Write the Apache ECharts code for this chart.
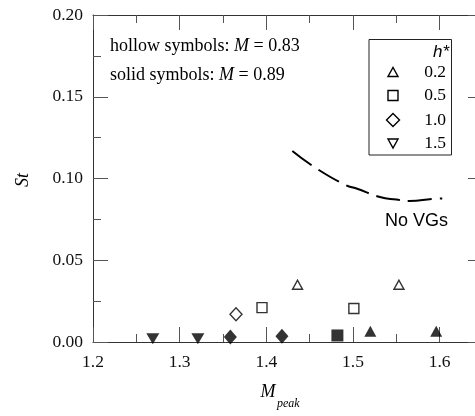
<!DOCTYPE html>
<html>
<head>
<meta charset="utf-8">
<script src="https://cdn.jsdelivr.net/npm/echarts@6/dist/echarts.min.js"></script>
<style>
  html, body { margin: 0; padding: 0; background: #fff; }
  #c { width: 475px; height: 416px; }
</style>
</head>
<body>
<div id="c"></div>
<script>
// Strouhal number St against peak Mach number, by vortex-generator height h*
const hStarLabels = ['0.2', '0.5', '1.0', '1.5'];

// hollow symbols: M = 0.83
const hollowH02 = [[1.436, 0.035], [1.553, 0.035]];
const hollowH05 = [[1.395, 0.021], [1.501, 0.0205]];
const hollowH10 = [[1.365, 0.017]];

// solid symbols: M = 0.89
const solidH02 = [[1.520, 0.0065], [1.596, 0.0065]];
const solidH05 = [[1.482, 0.004]];
const solidH10 = [[1.3585, 0.003], [1.418, 0.0035]];
const solidH15 = [[1.269, 0.002], [1.321, 0.002]];

// reference curve without vortex generators
const noVG = [
  [1.430, 0.1168], [1.458, 0.1061], [1.492, 0.0959], [1.504, 0.0939],
  [1.531, 0.0887], [1.550, 0.0871], [1.565, 0.0863], [1.592, 0.0875], [1.603, 0.0878]
];

const X_MIN = 1.2, X_MAX = 1.65, X_STEP = 0.1;
const Y_MIN = 0, Y_MAX = 0.2, Y_STEP = 0.05;

const SERIF = '"Liberation Serif", "Times New Roman", serif';
const SANS = '"Liberation Sans", Arial, sans-serif';
const AX = '#333';

function frameAxis(pos, isX, showLabel) {
  return {
    type: 'value',
    position: pos,
    min: isX ? X_MIN : Y_MIN,
    max: isX ? X_MAX : Y_MAX,
    interval: isX ? X_STEP : Y_STEP,
    axisLine: { show: true, onZero: false, lineStyle: { color: AX, width: 1 } },
    axisTick: { show: true, inside: true, length: 15, lineStyle: { color: '#555', width: 1 } },
    minorTick: { show: true, splitNumber: 2, length: 8, lineStyle: { color: '#555', width: 1 } },
    splitLine: { show: false },
    axisLabel: {
      show: showLabel,
      showMaxLabel: isX ? false : true,
      fontFamily: SERIF, fontSize: 17.5, color: '#111',
      margin: isX ? 11 : 10,
      formatter: v => isX ? v.toFixed(1) : v.toFixed(2)
    }
  };
}

const hollowStyle = { color: '#fff', borderColor: '#000', borderWidth: 1.4 };
const solidStyle = { color: '#000' };

function sc(data, symbol, size, style, rotate) {
  return {
    type: 'scatter', data, symbol, symbolSize: size,
    symbolRotate: rotate || 0, itemStyle: style, z: 5,
    emphasis: { disabled: true }
  };
}

// legend box contents
const legX = 393, legRight = 446;
const legRows = [72, 95.5, 120, 143.5];
function triPts(cx, cy, w, h, down) {
  return down
    ? [[cx - w / 2, cy - h / 2], [cx + w / 2, cy - h / 2], [cx, cy + h / 2]]
    : [[cx - w / 2, cy + h / 2], [cx + w / 2, cy + h / 2], [cx, cy - h / 2]];
}
const legStroke = { fill: '#fff', stroke: '#000', lineWidth: 1.4 };
const legendGraphics = [
  { type: 'rect', shape: { x: 369, y: 39.5, width: 82.5, height: 115.5 },
    style: { fill: '#fff', stroke: '#222', lineWidth: 1 }, z: 10 },
  { type: 'text', x: 449, y: 52, z: 11,
    style: { text: 'h*', font: 'italic 17px ' + SANS, fill: '#000', align: 'right', verticalAlign: 'middle' } },
  { type: 'polygon', shape: { points: triPts(legX, legRows[0], 10, 9, false) }, style: legStroke, z: 11 },
  { type: 'rect', shape: { x: legX - 5, y: legRows[1] - 5, width: 10, height: 10 }, style: legStroke, z: 11 },
  { type: 'polygon', shape: { points: [[legX, legRows[2] - 6.5], [legX + 6.5, legRows[2]], [legX, legRows[2] + 6.5], [legX - 6.5, legRows[2]]] }, style: legStroke, z: 11 },
  { type: 'polygon', shape: { points: triPts(legX, legRows[3], 10, 9, true) }, style: legStroke, z: 11 }
].concat(hStarLabels.map((t, i) => ({
  type: 'text', x: legRight, y: legRows[i], z: 11,
  style: { text: t, font: '17.5px ' + SERIF, fill: '#000', align: 'right', verticalAlign: 'middle' }
})));

const richNote = {
  n: { fontFamily: SERIF, fontSize: 18, fill: '#000' },
  i: { fontFamily: SERIF, fontSize: 18, fontStyle: 'italic', fill: '#000' }
};

const chart = echarts.init(document.getElementById('c'), null, { renderer: 'canvas' });
chart.setOption({
  animation: false,
  backgroundColor: '#fff',
  grid: { left: 93, width: 390, top: 15, height: 327, containLabel: false, outerBoundsMode: 'none' },
  xAxis: [frameAxis('bottom', true, true), frameAxis('top', true, false)],
  yAxis: [frameAxis('left', false, true), frameAxis('right', false, false)],
  series: [
    {
      type: 'line', data: noVG, smooth: true, showSymbol: false, symbol: 'none',
      lineStyle: { color: '#000', width: 2, type: [24, 8] }, z: 3,
      emphasis: { disabled: true }
    },
    sc(hollowH02, 'triangle', [10, 9], hollowStyle),
    sc(hollowH05, 'rect', [10, 10], hollowStyle),
    sc(hollowH10, 'diamond', [12, 13], hollowStyle),
    sc(solidH02, 'triangle', [12, 11], solidStyle),
    sc(solidH05, 'rect', [12, 12], solidStyle),
    sc(solidH10, 'diamond', [13, 15], solidStyle),
    sc(solidH15, 'triangle', [13, 11], solidStyle, 180)
  ],
  graphic: [
    { type: 'text', x: 110, y: 46, z: 11,
      style: { text: '{n|hollow symbols: }{i|M}{n| = 0.83}', verticalAlign: 'middle', rich: richNote } },
    { type: 'text', x: 110, y: 75, z: 11,
      style: { text: '{n|solid symbols: }{i|M}{n| = 0.89}', verticalAlign: 'middle', rich: richNote } },
    { type: 'text', x: 385, y: 221, z: 11,
      style: { text: 'No VGs', font: '18px ' + SANS, fill: '#000', verticalAlign: 'middle' } },
    { type: 'text', x: 23, y: 180, rotation: Math.PI / 2, z: 11,
      style: { text: 'St', font: 'italic 18px ' + SERIF, fill: '#000', align: 'center', verticalAlign: 'middle' } },
    { type: 'text', x: 268, y: 392, z: 11,
      style: { text: 'M', font: 'italic 18px ' + SERIF, fill: '#000', align: 'center', verticalAlign: 'middle' } },
    { type: 'text', x: 277, y: 404, z: 11,
      style: { text: 'peak', font: 'italic 12px ' + SERIF, fill: '#000', align: 'left', verticalAlign: 'middle' } }
  ].concat(legendGraphics)
});
</script>
</body>
</html>
